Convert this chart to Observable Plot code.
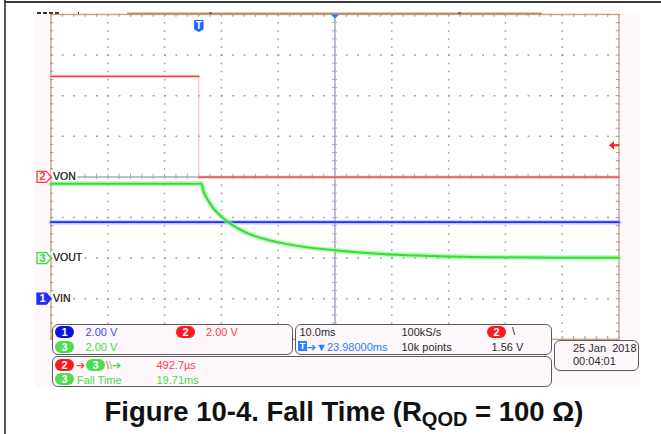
<!DOCTYPE html>
<html><head><meta charset="utf-8">
<script src="https://cdn.jsdelivr.net/npm/d3@7"></script>
<script src="https://cdn.jsdelivr.net/npm/@observablehq/plot@0.6"></script>
<style>
html,body{margin:0;padding:0;background:#fff;}
#wrap{position:relative;width:661px;height:434px;overflow:hidden;background:#fff;font-family:"Liberation Sans",Arial,sans-serif;}
.abs{position:absolute;}
.panel{position:absolute;border:1px solid #5c5c5c;border-radius:6px;background:#fef7fc;box-sizing:border-box;}
.t{position:absolute;font-size:11px;line-height:12px;white-space:pre;}
.pill{position:absolute;width:19px;height:12px;border-radius:6px;color:#fff;font-size:11px;font-weight:bold;line-height:12px;text-align:center;}
.blue{color:#4646ff}.red{color:#ff4040}.green{color:#45dc45}.dark{color:#2a2a2a}
</style></head>
<body><div id="wrap">
<div class="abs" style="left:35px;top:13px;width:605px;height:374px;background:#fef7fc"></div>
<div class="abs" style="left:4px;top:0;width:1.5px;height:434px;background:#5a5a5a"></div>
<div class="abs" style="left:4px;top:1px;width:657px;height:1.5px;background:#3a3a3a"></div>
<div class="abs" style="left:37px;top:11.5px;width:22px;height:2px;background:repeating-linear-gradient(90deg,#333 0 4px,transparent 4px 6px)"></div>
<div class="abs" style="left:77.5px;top:11.5px;width:1.5px;height:3px;background:#333"></div>
<div id="chart" class="abs" style="left:0;top:0"></div>

<div class="panel" style="left:51.5px;top:324px;width:241.5px;height:30.5px"></div>
<div class="panel" style="left:294.5px;top:324px;width:257px;height:30.5px"></div>
<div class="panel" style="left:51.5px;top:356px;width:500px;height:30.5px"></div>
<div class="panel" style="left:554px;top:339.5px;width:84.5px;height:31.5px"></div>

<div class="pill" style="left:55px;top:326px;background:#0a12e0">1</div>
<div class="t blue" style="left:85.5px;top:325.7px">2.00 V</div>
<div class="pill" style="left:176px;top:326px;background:#ff1a1a">2</div>
<div class="t red" style="left:206px;top:325.7px">2.00 V</div>
<div class="pill" style="left:55px;top:340.5px;background:#4fdc4f">3</div>
<div class="t green" style="left:85.5px;top:340.9px">2.00 V</div>

<div class="t dark" style="left:299.5px;top:325.7px">10.0ms</div>
<div class="t dark" style="left:401.5px;top:325.7px">100kS/s</div>
<div class="pill" style="left:487px;top:326px;background:#ff1a1a">2</div>
<div class="t dark" style="left:512px;top:325.2px">\</div>
<div class="abs" style="left:298px;top:341px;width:9px;height:10px;background:#2b7fff;color:#fff;font:bold 9px/10px 'Liberation Sans',Arial,sans-serif;text-align:center">T</div>
<div class="t" style="left:307px;top:340.9px;color:#2b7fff">➔▼23.98000ms</div>
<div class="t dark" style="left:401.5px;top:340.9px">10k points</div>
<div class="t dark" style="left:491.5px;top:340.9px">1.56 V</div>

<div class="pill" style="left:55px;top:358.5px;background:#ff1a1a">2</div>
<div class="t red" style="left:75.5px;top:359.2px">➔</div>
<div class="pill" style="left:86px;top:358.5px;background:#4fdc4f">3</div>
<div class="t" style="left:106px;top:359.2px"><span class="red">\</span><span class="green">\➔</span></div>
<div class="t red" style="left:156.5px;top:359.2px">492.7µs</div>
<div class="pill" style="left:55px;top:372.8px;background:#4fdc4f">3</div>
<div class="t green" style="left:77px;top:373.5px">Fall Time</div>
<div class="t green" style="left:156.5px;top:373.5px">19.71ms</div>

<div class="t dark" style="left:573px;top:341.9px">25 Jan  2018</div>
<div class="t dark" style="left:573px;top:355.2px">00:04:01</div>

<div class="abs" style="left:13.5px;width:661px;top:398.3px;text-align:center;font:bold 27.5px/27.5px 'Liberation Sans',Arial,sans-serif;color:#111;white-space:nowrap">Figure 10-4. Fall Time (R<span style="font-size:20px;position:relative;top:5px">QOD</span> = 100 Ω)</div>
</div>
<script>
// ---- data ----
const screenLeftMs = -26.02;   // left edge of screen, ms relative to trigger
const screenRightMs = 73.98;   // right edge of screen
const screenCenterMs = 23.98;
const voltsPerDiv = 2;

const ch1Time = [-26.02, 73.98];
const ch1Volts = [3.77, 3.77];

const ch2Time = [-26.02, 0, 0, 73.98];
const ch2Volts = [4.95, 4.95, -0.015, -0.015];
const ch2Level = ["high", "high", "low", "low"];

const ch3Time = [-26.02, 0.49, 0.88, 1.48, 2.64, 4.12, 5.58, 7.04, 8.52, 11.44, 14.38, 17.6, 23.19, 29.0, 34.93, 43.73, 52.5, 64.2, 73.98];
const ch3Volts = [3.66, 3.66, 3.25, 2.92, 2.43, 2.01, 1.69, 1.44, 1.23, 0.95, 0.75, 0.59, 0.41, 0.26, 0.16, 0.08, 0.04, 0.015, 0.015];

const channelNames = ["1", "2", "3"];
const channelLabels = ["VIN", "VON", "VOUT"];
const channelOffsetDiv = [-3, 0, -2];
const channelFilledTag = [true, false, false];
const triggerTimeMs = 0;
const triggerLevelVolts = 1.56;
const memoryBarMs = [-12.55, 60.5];
const memoryMarksMs = [2.06, 45.9];

// ---- styles ----
const colors = {"1": "#1f2dff", "2": "#ff3a3a", "3": "#2fe02f"};
const halo = {"1": "#8d95ff", "2": "#ffa8a8", "3": "#8ef08e"};
const gridColor = "#969bb2";
const crossColor = "#a4aac2";

const toDiv = (ch, v) => channelOffsetDiv[channelNames.indexOf(ch)] + v / voltsPerDiv;

const ch1 = ch1Time.map((t, i) => ({t, y: toDiv("1", ch1Volts[i])}));
const ch2 = ch2Time.map((t, i) => ({t, y: toDiv("2", ch2Volts[i]), level: ch2Level[i]}));
const ch3 = ch3Time.map((t, i) => ({t, y: toDiv("3", ch3Volts[i])}));
const tags = channelNames.map((ch, i) => ({ch, label: channelLabels[i], y: channelOffsetDiv[i], filled: channelFilledTag[i]}));

const majorX = d3.range(11).map(k => screenLeftMs + 10 * k).filter(x => Math.abs(x - screenCenterMs) > 1e-6);
const majorY = d3.range(-4, 5).filter(y => y !== 0);
const minorX = d3.range(51).map(k => screenLeftMs + 2 * k);
const minorY = d3.range(41).map(k => -4 + 0.2 * k);

const tagSymbol = {draw(ctx) { ctx.moveTo(-7, -5.5); ctx.lineTo(2.5, -5.5); ctx.lineTo(7, 0); ctx.lineTo(2.5, 5.5); ctx.lineTo(-7, 5.5); ctx.closePath(); }};
const shieldSymbol = {draw(ctx) { ctx.moveTo(-4.7, -6); ctx.lineTo(4.7, -6); ctx.lineTo(4.7, 3.2); ctx.lineTo(0, 6); ctx.lineTo(-4.7, 3.2); ctx.closePath(); }};
const downTriSymbol = {draw(ctx) { ctx.moveTo(-4.2, -2); ctx.lineTo(4.2, -2); ctx.lineTo(0, 2.3); ctx.closePath(); }};
const levelArrowSymbol = {draw(ctx) { ctx.moveTo(-5, 0); ctx.lineTo(0, -4.2); ctx.lineTo(0, 4.2); ctx.closePath(); ctx.rect(0, -1, 5, 2); }};

const chart = Plot.plot({
  width: 661,
  height: 390,
  marginLeft: 50.5,
  marginRight: 42.5,
  marginTop: 14,
  marginBottom: 51.2,
  x: {domain: [screenLeftMs, screenRightMs], axis: null},
  y: {domain: [-4, 4], axis: null},
  color: {type: "identity"},
  style: {background: "transparent", overflow: "visible", fontFamily: "Liberation Sans, Arial, sans-serif"},
  marks: [
    Plot.frame({fill: "white", stroke: "none"}),
    Plot.ruleX(majorX, {stroke: gridColor, strokeWidth: 1.5, strokeDasharray: "1.5,6.62"}),
    Plot.ruleY(majorY, {stroke: gridColor, strokeWidth: 1.5, strokeDasharray: "1.8,9.56"}),
    Plot.ruleX([screenCenterMs], {stroke: crossColor, strokeWidth: 1.5}),
    Plot.ruleY([0], {stroke: crossColor, strokeWidth: 1.5}),
    Plot.ruleY(minorY, {y: d => d, x1: screenCenterMs - 0.45, x2: screenCenterMs + 0.45, stroke: crossColor}),
    Plot.ruleX(minorX, {x: d => d, y1: -0.065, y2: 0.065, stroke: crossColor}),
    Plot.ruleY(minorY, {y: d => d, x1: screenLeftMs, x2: screenLeftMs + 0.5, stroke: gridColor}),
    Plot.ruleY(minorY, {y: d => d, x1: screenRightMs - 0.5, x2: screenRightMs, stroke: gridColor}),
    Plot.ruleX(minorX, {x: d => d, y1: 3.93, y2: 4, stroke: gridColor}),
    Plot.ruleX(minorX, {x: d => d, y1: -4, y2: -3.93, stroke: gridColor}),
    Plot.frame({stroke: "#c79f7d", strokeWidth: 1.3}),
    Plot.ruleY([4], {x1: memoryBarMs[0], x2: memoryBarMs[1], stroke: "#b59474", strokeWidth: 2, dy: -1}),
    Plot.ruleX(memoryMarksMs, {y1: 4, y2: 4.045, stroke: "#555", strokeWidth: 2.5}),
    // label halo hides the centre line under "VON"
    Plot.text(tags, {x: () => screenLeftMs, y: "y", text: "label", dx: 2, textAnchor: "start", fontSize: 10.5, fill: "#333", stroke: "white", strokeWidth: 5}),
    // channel 2 (VON)
    Plot.line(ch2, {x: "t", y: "y", stroke: "#ffb4b4", strokeWidth: 1}),
    Plot.line(ch2, {x: "t", y: "y", z: "level", stroke: halo["2"], strokeWidth: 3.2, strokeOpacity: 0.6}),
    Plot.line(ch2, {x: "t", y: "y", z: "level", stroke: d => d.level === "high" ? colors["2"] : "#d84a4a", strokeWidth: 1.2}),
    // channel 1 (VIN)
    Plot.line(ch1, {x: "t", y: "y", stroke: halo["1"], strokeWidth: 4.5, strokeOpacity: 0.5}),
    Plot.line(ch1, {x: "t", y: "y", stroke: colors["1"], strokeWidth: 1.8}),
    // channel 3 (VOUT)
    Plot.line(ch3, {x: "t", y: "y", curve: "monotone-x", stroke: halo["3"], strokeWidth: 5, strokeOpacity: 0.6}),
    Plot.line(ch3, {x: "t", y: "y", curve: "monotone-x", stroke: colors["3"], strokeWidth: 2}),
    // channel tags and labels
    Plot.dot(tags, {x: () => screenLeftMs, y: "y", dx: -7, symbol: tagSymbol, r: 5,
      fill: d => d.filled ? colors[d.ch] : "white", stroke: d => colors[d.ch], strokeWidth: 1.3}),
    Plot.text(tags, {x: () => screenLeftMs, y: "y", text: "ch", dx: -8.5, fontSize: 11, fontWeight: "bold",
      fill: d => d.filled ? "white" : colors[d.ch]}),
    Plot.text(tags, {x: () => screenLeftMs, y: "y", text: "label", dx: 2, textAnchor: "start", fontSize: 10.5, fill: "#333"}),
    // trigger markers
    Plot.dot([triggerTimeMs], {x: d => d, y: () => 4, dy: 11.5, symbol: shieldSymbol, r: 5, fill: "#1769ff"}),
    Plot.text([triggerTimeMs], {x: d => d, y: () => 4, dy: 11, text: () => "T", fill: "white", fontSize: 10, fontWeight: "bold"}),
    Plot.dot([screenCenterMs], {x: d => d, y: () => 4, dy: 2, symbol: downTriSymbol, r: 4, fill: "#2b7bff"}),
    Plot.dot([triggerLevelVolts], {x: () => screenRightMs, y: d => toDiv("2", d), dx: -5, symbol: levelArrowSymbol, r: 4, fill: "#ff1e1e"})
  ]
});
document.getElementById("chart").appendChild(chart);
</script>
</body></html>
